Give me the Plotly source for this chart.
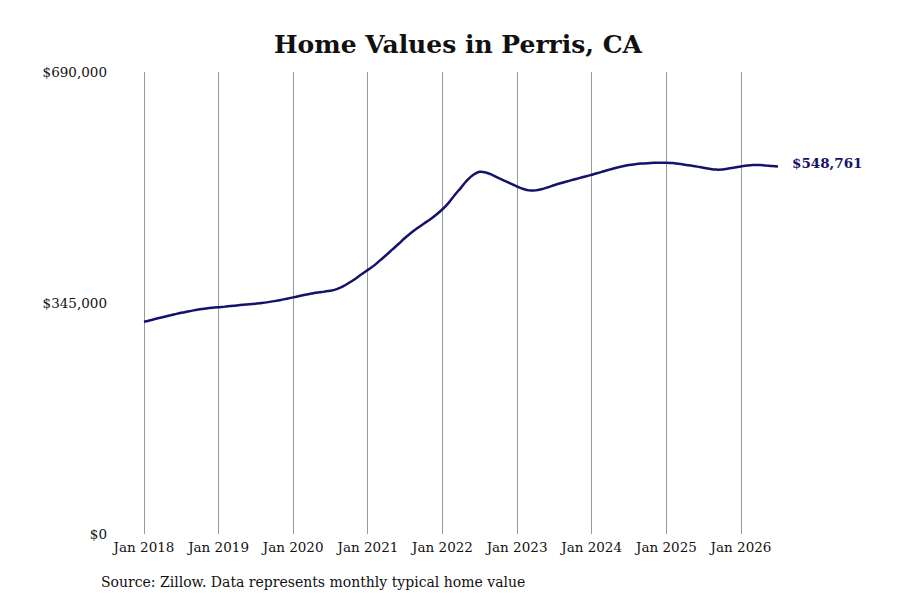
import pandas as pd
import plotly.graph_objects as go

# ---- data (monthly typical home value, Jan 2018 - Jul 2026) ----
start_month = "2018-01-01"
values_2018 = [317000, 319200, 321500, 323800, 326000, 328200, 330300, 332200, 334000, 335500, 336800, 337900]
values_2019 = [338800, 339600, 340500, 341400, 342300, 343100, 344000, 345000, 346300, 347800, 349500, 351400]
values_2020 = [353400, 355400, 357300, 359100, 360700, 362000, 363300, 365800, 369800, 375200, 381300, 387800]
values_2021 = [394500, 401200, 408700, 416700, 425000, 433500, 442000, 450000, 457000, 463500, 469800, 476800]
values_2022 = [485000, 495000, 506000, 517000, 528000, 536500, 541000, 540000, 536300, 531800, 527500, 523300]
values_2023 = [519000, 515300, 513200, 513200, 515000, 517800, 520800, 523800, 526500, 529000, 531500, 534000]
values_2024 = [536500, 539100, 541800, 544500, 547000, 549200, 551000, 552300, 553200, 553800, 554300, 554600]
values_2025 = [554600, 554000, 552800, 551500, 550200, 548700, 547000, 545400, 544300, 544400, 545800, 547500]
values_2026 = [549000, 550300, 551000, 551000, 550400, 549500, 548761]

tick_dates = ["2018-01-01", "2019-01-01", "2020-01-01", "2021-01-01", "2022-01-01",
              "2023-01-01", "2024-01-01", "2025-01-01", "2026-01-01"]
tick_labels = ["Jan 2018", "Jan 2019", "Jan 2020", "Jan 2021", "Jan 2022",
               "Jan 2023", "Jan 2024", "Jan 2025", "Jan 2026"]
y_ticks = [0, 345000, 690000]
y_tick_labels = ["$0", "$345,000", "$690,000"]

values = (values_2018 + values_2019 + values_2020 + values_2021 + values_2022 +
          values_2023 + values_2024 + values_2025 + values_2026)
dates = pd.date_range(start_month, periods=len(values), freq="MS")

LINE = "#15126b"
FONT = "DejaVu Serif"
TXT = "#111111"

# layout geometry (figure coords; page adds an 8px body offset)
W, H = 900, 600
ml, mr, mt, mb = 100, 20, 64, 74
x2018_px, x2026_px = 136, 733
d0 = pd.Timestamp("2018-01-01")
d8 = pd.Timestamp("2026-01-01")
ppd = (x2026_px - x2018_px) / (d8 - d0).days
r0 = d0 - pd.Timedelta(days=(x2018_px - ml) / ppd)
r1 = d0 + pd.Timedelta(days=(W - mr - x2018_px) / ppd)

fig = go.Figure()
fig.add_trace(go.Scatter(
    x=dates, y=values, mode="lines",
    line=dict(color=LINE, width=2.5, shape="spline", smoothing=1.0),
    hoverinfo="skip", showlegend=False,
))

fig.add_annotation(
    x=dates[-1], y=values[-1], xref="x", yref="y",
    text=f"<b>${values[-1]:,.0f}</b>", showarrow=False,
    xanchor="left", yanchor="middle", xshift=12, yshift=4,
    font=dict(family=FONT, size=13.5, color=LINE),
)

plot_w = W - ml - mr
fig.add_annotation(
    x=(91 - ml) / plot_w, y=0, xref="paper", yref="paper",
    text="Source: Zillow. Data represents monthly typical home value",
    showarrow=False, xanchor="left", yanchor="middle", yshift=-48,
    font=dict(family=FONT, size=14, color=TXT),
)

fig.update_layout(
    width=W, height=H,
    margin=dict(l=ml, r=mr, t=mt, b=mb),
    paper_bgcolor="white", plot_bgcolor="white",
    title=dict(text="<b>Home Values in Perris, CA</b>", x=0.5, xanchor="center",
               y=1 - 36 / H, yanchor="middle",
               font=dict(family=FONT, size=25, color=TXT)),
    font=dict(family=FONT, size=13, color=TXT),
    xaxis=dict(
        type="date", range=[r0, r1],
        tickvals=tick_dates, ticktext=tick_labels,
        showgrid=True, gridcolor="#9a9a9a", gridwidth=1,
        showline=False, zeroline=False, ticks="",
        ticklabelstandoff=3,
        tickfont=dict(family=FONT, size=13.5, color=TXT),
    ),
    yaxis=dict(
        range=[0, 690000],
        tickvals=y_ticks, ticktext=y_tick_labels,
        showgrid=False, showline=False, zeroline=False, ticks="",
        tickfont=dict(family=FONT, size=13.5, color=TXT),
    ),
)

fig.write_html("out.html")
